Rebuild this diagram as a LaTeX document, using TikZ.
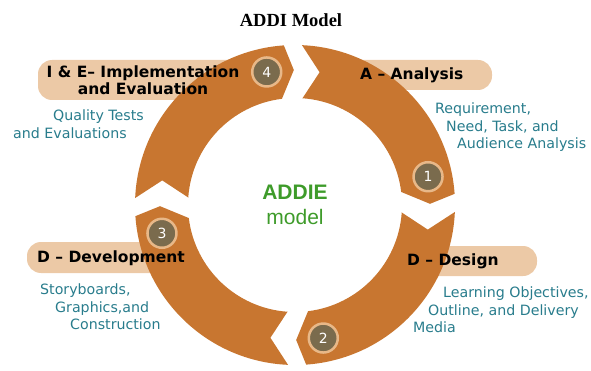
\documentclass[tikz,border=0pt]{standalone}
\usepackage{fontspec}
\setmainfont{DejaVu Sans}
\newfontfamily\titlefont{Liberation Serif}
\newfontfamily\addiefont{Liberation Sans}
\definecolor{ring}{RGB}{200,118,48}
\definecolor{tagfill}{RGB}{236,201,166}
\definecolor{numfill}{RGB}{122,107,77}
\definecolor{numline}{RGB}{232,184,136}
\definecolor{notecol}{RGB}{40,124,140}
\definecolor{addie}{RGB}{62,155,42}

\begin{document}
\begin{tikzpicture}[x=1pt,y=1pt,
 seg/.style={fill=ring},
 tagbox/.style={fill=tagfill,rounded corners=14pt,inner sep=0pt},
 tag/.style={font=\fontsize{15.5}{17}\selectfont\bfseries,inner sep=0pt},
 note/.style={font=\fontsize{14.2}{17.3}\selectfont,text=notecol,align=left,inner sep=0pt,anchor=north west},
 num/.style={circle,fill=numfill,draw=numline,line width=2.5pt,minimum size=29pt,inner sep=0pt,text=white,font=\fontsize{14}{14}\selectfont}]
 \useasboundingbox (0,0) rectangle (591,370);
 \coordinate (c) at (295,165);
 % label backgrounds
 \node[tagbox,minimum width=224pt,minimum height=40pt] (bIE) at (150,290) {};
 \node[tagbox,minimum width=162pt,minimum height=30pt] (bA) at (411,295) {};
 \node[tagbox,minimum width=142pt,minimum height=30pt] (bDs) at (466,109) {};
 \node[tagbox,minimum width=163pt,minimum height=31pt] (bDv) at (108.5,112.5) {};
 % ring of arrows
 \foreach \h in {0,-90,-180,-270}{
  \pgfmathsetmacro\t{\h+90}
  \fill[seg,shift={(c)}] ({\t-2.5}:160) arc[start angle=\t-2.5,end angle=\h+4,radius=160]
   -- ({\h+0.5}:135) -- ({\h+7}:107) arc[start angle=\h+7,end angle=\t-4,radius=107]
   -- ({\t-10.5}:135) -- cycle;
 }
 \foreach \h/\n in {0/1,-90/2,-180/3,-270/4}
  \node[num] (n\n) at ([shift={({\h+12}:136)}]c) {\n};
 % labels
 \node[tag,anchor=west] (tA) at (360,295) {A – Analysis};
 \node[tag,anchor=west] (tDs) at (407,109) {D – Design};
 \node[tag,anchor=west] (tDv) at (37,112) {D – Development};
 \node[tag,align=center] (tIE) at (143,290) {I \& E– Implementation\\and Evaluation};
 \node[note] (nA) at (435,267) {Requirement,\\\hspace*{11pt}Need, Task, and\\\hspace*{22pt}Audience Analysis};
 \node[note] (nIE) at (13,260) {\hspace*{40pt}Quality Tests\\and Evaluations};
 \node[note] (nDs) at (413,83) {\hspace*{30pt}Learning Objectives,\\\hspace*{15pt}Outline, and Delivery\\Media};
 \node[note] (nDv) at (40,86) {Storyboards,\\\hspace*{15pt}Graphics,and\\\hspace*{30pt}Construction};
 \node[text=addie,align=center,font=\addiefont\fontsize{21}{25}\selectfont] (mid) at (c) {\textbf{ADDIE}\\model};
 \node[font=\titlefont\fontsize{18.5}{20}\selectfont\bfseries] (title) at (291,350) {ADDI Model};
\end{tikzpicture}
\end{document}
